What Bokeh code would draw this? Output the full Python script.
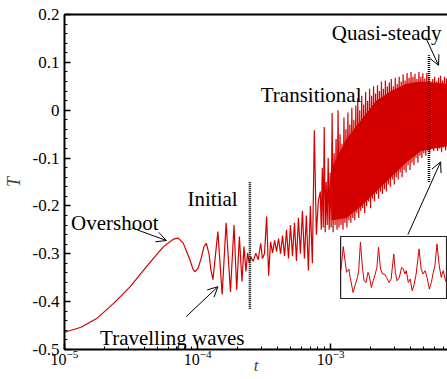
import numpy as np
from bokeh.plotting import figure
from bokeh.models import Range1d, LinearScale, LogAxis, FixedTicker, Label, Arrow, OpenHead
from bokeh.embed import file_html
from bokeh.resources import INLINE

FONT = "Liberation Serif"
RED = "#d40000"

# ---------------- data ----------------
# smooth start, overshoot and travelling waves (explicit samples)
t_early = [1.0e-5, 1.33e-5, 1.77e-5, 2.35e-5, 3.13e-5, 4.16e-5, 5.54e-5, 6.57e-5, 7.16e-5, 7.80e-5,
           8.75e-5, 9.26e-5, 9.58e-5, 1.009e-4, 1.062e-4, 1.117e-4, 1.162e-4, 1.218e-4, 1.26e-4, 1.304e-4,
           1.42e-4, 1.529e-4, 1.637e-4, 1.765e-4, 1.877e-4, 1.966e-4, 2.06e-4, 2.153e-4, 2.23e-4, 2.306e-4,
           2.374e-4, 2.444e-4, 2.512e-4, 2.617e-4, 2.736e-4, 2.851e-4, 2.98e-4, 3.07e-4, 3.18e-4]
T_early = [-0.464, -0.4535, -0.434, -0.403, -0.368, -0.326, -0.285, -0.2695, -0.2673, -0.2777,
           -0.3125, -0.333, -0.3375, -0.330, -0.310, -0.285, -0.278, -0.300, -0.335, -0.354,
           -0.2535, -0.385, -0.235, -0.38, -0.24, -0.375, -0.264, -0.358, -0.285, -0.337,
           -0.2986, -0.319, -0.306, -0.316, -0.2986, -0.3125, -0.278, -0.31, -0.30]

# transitional part: alternating extrema, evenly sampled in log t
trans_t_start, trans_t_end = 3.30e-4, 8.07e-4
trans_values = [-0.222, -0.346, -0.275, -0.298, -0.272, -0.295, -0.268, -0.300, -0.262, -0.305,
                -0.250, -0.310, -0.240, -0.305, -0.235, -0.315, -0.225, -0.300, -0.210, -0.310,
                -0.220, -0.335, -0.200, -0.320, -0.042, -0.260, -0.190]

# dense transitional / quasi-steady part: peaks and troughs, evenly sampled in log t
dense_t_start, dense_t_end = 8.35e-4, 7.54e-3
dense_peaks = [-0.17, -0.12, -0.035, -0.15, -0.10, -0.13, -0.006, -0.09, -0.06, 0.0,
               -0.05, -0.07, -0.015, -0.04, -0.005, -0.03, 0.005, -0.02, 0.01, 0.025,
               0.0, 0.03, 0.012, 0.038, 0.02, 0.045, 0.03, 0.05, 0.035, 0.052,
               0.04, 0.06, 0.045, 0.062, 0.05, 0.058, 0.065, 0.05, 0.068, 0.055,
               0.07, 0.06, 0.075, 0.062, 0.078, 0.068, 0.08, 0.07, 0.076, 0.065,
               0.08, 0.07, 0.077, 0.066, 0.078, 0.07, 0.06, 0.065, 0.07, 0.06,
               0.068, 0.072, 0.062, 0.07, 0.066]
dense_troughs = [-0.25, -0.245, -0.255, -0.24, -0.25, -0.245, -0.255, -0.24, -0.25, -0.245,
                 -0.24, -0.25, -0.235, -0.245, -0.23, -0.235, -0.225, -0.23, -0.215, -0.225,
                 -0.21, -0.205, -0.215, -0.20, -0.19, -0.205, -0.185, -0.19, -0.175, -0.185,
                 -0.17, -0.175, -0.165, -0.17, -0.155, -0.16, -0.145, -0.155, -0.14, -0.145,
                 -0.13, -0.14, -0.125, -0.13, -0.115, -0.125, -0.11, -0.115, -0.10, -0.11,
                 -0.095, -0.10, -0.09, -0.095, -0.085, -0.09, -0.08, -0.085, -0.078, -0.085,
                 -0.08, -0.088, -0.078, -0.084, -0.08]

# solid core of the densely oscillating signal (where the trace fills in)
core_t = [1.017e-3, 1.315e-3, 1.70e-3, 2.198e-3, 2.84e-3, 3.67e-3, 4.75e-3, 7.54e-3]
core_top = [-0.12, -0.06, -0.02, 0.02, 0.04, 0.055, 0.06, 0.055]
core_bottom = [-0.23, -0.225, -0.20, -0.17, -0.14, -0.11, -0.085, -0.075]

# inset (zoomed quasi-steady signal), normalised time and level within the inset box
inset_time = [0.003, 0.025, 0.056, 0.078, 0.090, 0.118, 0.140, 0.159, 0.171, 0.187,
              0.206, 0.221, 0.240, 0.259, 0.271, 0.290, 0.308, 0.327, 0.343, 0.358,
              0.377, 0.396, 0.414, 0.433, 0.458, 0.477, 0.502, 0.517, 0.533, 0.555,
              0.576, 0.592, 0.607, 0.620, 0.639, 0.657, 0.676, 0.695, 0.713, 0.741,
              0.760, 0.779, 0.798, 0.816, 0.838, 0.857, 0.875, 0.891, 0.910, 0.931,
              0.950, 0.969, 0.991, 1.0]
inset_level = [0.449, 0.838, 0.422, 0.476, 0.341, 0.097, 0.232, 0.341, 0.449, 0.908,
               0.503, 0.286, 0.259, 0.422, 0.368, 0.178, 0.286, 0.395, 0.503, 0.827,
               0.476, 0.395, 0.395, 0.341, 0.259, 0.314, 0.719, 0.422, 0.286, 0.341,
               0.503, 0.476, 0.395, 0.449, 0.259, 0.314, 0.124, 0.232, 0.395, 0.800,
               0.476, 0.395, 0.449, 0.341, 0.151, 0.259, 0.422, 0.530, 0.881, 0.530,
               0.341, 0.449, 0.286, 0.259]

# phase boundaries
phase_t = [2.47e-4, 5.47e-3]
phase_T_low = [-0.415, -0.15]
phase_T_high = [-0.15, 0.115]

y_ticks = [-0.5, -0.4, -0.3, -0.2, -0.1, 0.0, 0.1, 0.2]
y_tick_labels = ["-0.5", "-0.4", "-0.3", "-0.2", "-0.1", "0", "0.1", "0.2"]

labels_text = ["Overshoot", "Travelling waves", "Initial", "Transitional", "Quasi-steady"]
labels_t = [1.12e-5, 1.85e-5, 8.4e-5, 2.98e-4, 1.02e-3]
labels_T = [-0.2354, -0.475, -0.1854, 0.03125, 0.1604]

arrow_t0 = [3.2e-5, 8.21e-5, 5.17e-3, 3.80e-3]
arrow_T0 = [-0.2458, -0.43125, 0.152, -0.26]
arrow_t1 = [5.83e-5, 1.42e-4, 6.46e-3, 6.69e-3]
arrow_T1 = [-0.2723, -0.36875, 0.09375, -0.108]

# ---------------- build series ----------------
trans_t = np.geomspace(trans_t_start, trans_t_end, len(trans_values))
dense_vals = np.empty(2 * len(dense_peaks))
dense_vals[0::2] = dense_peaks
dense_vals[1::2] = dense_troughs
dense_t = np.geomspace(dense_t_start, dense_t_end, len(dense_vals))
t_all = np.concatenate([t_early, trans_t, dense_t])
T_all = np.concatenate([T_early, trans_values, dense_vals])

# ---------------- figure ----------------
p = figure(width=447, height=379, x_axis_type="log",
           x_range=Range1d(1e-5, 7.54e-3), y_range=Range1d(-0.5, 0.2),
           output_backend="svg", toolbar_location=None,
           min_border_left=60, min_border_right=0, min_border_top=14, min_border_bottom=30,
           background_fill_color="white", border_fill_color="white")
p.outline_line_color = None
p.grid.visible = False

for ax in [p.xaxis[0], p.yaxis[0]]:
    ax.axis_line_width = 2
    ax.axis_line_color = "black"
    ax.major_tick_in = 6
    ax.major_tick_out = 0
    ax.minor_tick_in = 3
    ax.minor_tick_out = 0
    ax.major_tick_line_width = 1.5
    ax.minor_tick_line_width = 1
    ax.major_tick_line_color = "black"
    ax.minor_tick_line_color = "black"
    ax.major_label_text_font = FONT
    ax.major_label_text_color = "black"

p.yaxis.ticker = FixedTicker(ticks=y_ticks, minor_ticks=[round(v, 3) for v in np.arange(-0.5, 0.2001, 0.02)])
p.yaxis.major_label_overrides = {tk: lb for tk, lb in zip(y_ticks, y_tick_labels)}
p.yaxis.major_label_text_font_size = "17px"
p.yaxis.major_label_standoff = 5
p.yaxis.axis_label = "T"
p.yaxis.axis_label_text_font = FONT
p.yaxis.axis_label_text_font_style = "italic"
p.yaxis.axis_label_text_font_size = "18px"
p.yaxis.axis_label_standoff = 6
p.xaxis.major_label_text_font_size = "16px"
p.xaxis.major_label_standoff = 0
p.xaxis.axis_label = "t"
p.xaxis.axis_label_text_font = FONT
p.xaxis.axis_label_text_font_style = "italic"
p.xaxis.axis_label_text_font_size = "17px"
p.xaxis.axis_label_standoff = -12

top = LogAxis(axis_line_width=2, axis_line_color="black",
              ticker=FixedTicker(ticks=[], minor_ticks=[]),
              major_tick_line_color=None, minor_tick_line_color=None,
              major_label_text_color=None, major_label_standoff=0)
p.add_layout(top, "above")

p.varea(x=core_t, y1=core_bottom, y2=core_top, fill_color=RED)
p.line(t_all, T_all, line_color=RED, line_width=1.2)

# inset
p.extra_x_ranges = {"inset": Range1d(-2.6075, 1.00935)}
p.extra_y_ranges = {"inset": Range1d(-0.8226, 4.5806)}
p.extra_x_scales = {"inset": LinearScale()}
p.quad(left=[0], right=[1], bottom=[0], top=[1], fill_color="white", line_color="#222222",
       line_width=1.2, x_range_name="inset", y_range_name="inset")
p.line(inset_time, inset_level, line_color=RED, line_width=1, x_range_name="inset", y_range_name="inset")

# phase boundaries
p.segment(x0=phase_t, y0=phase_T_low, x1=phase_t, y1=phase_T_high,
          line_color="black", line_width=2.5, line_dash="1 1")

for txt, x, y in zip(labels_text, labels_t, labels_T):
    p.add_layout(Label(x=x, y=y, text=txt, text_font=FONT, text_font_size="21px",
                       text_baseline="alphabetic", text_align="left", text_color="black"))

for x0, y0, x1, y1 in zip(arrow_t0, arrow_T0, arrow_t1, arrow_T1):
    p.add_layout(Arrow(end=OpenHead(size=10, line_width=1, line_color="black"),
                       x_start=x0, y_start=y0, x_end=x1, y_end=y1,
                       line_width=1, line_color="black"))

open("out.html", "w").write(file_html(p, INLINE))
